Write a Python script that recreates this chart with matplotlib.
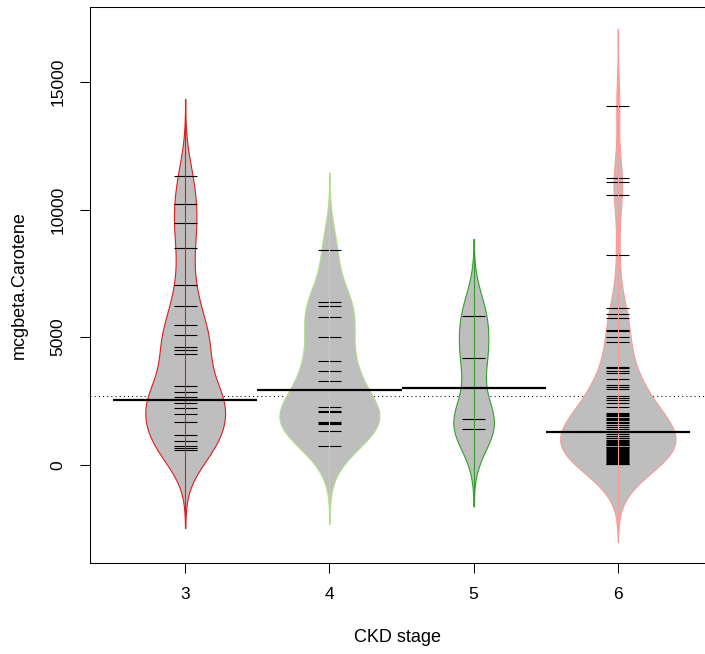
import numpy as np
import matplotlib
matplotlib.use("Agg")
import matplotlib.pyplot as plt
from matplotlib import mlab

plt.rcParams["font.family"] = ["Liberation Sans", "DejaVu Sans"]

stages = [3, 4, 5, 6]

stage3 = [11308, 10223, 9479, 8487, 7063, 6214, 5484, 5066, 4596, 4504, 4348,
          3068, 2860, 2640, 2560, 2440, 2220, 1985, 1672, 1175,
          914, 718, 640, 561]
stage4 = [8420, 6397, 6241, 5810, 5014, 4086, 3669, 3278, 2260, 2100, 2064,
          1680, 1645, 1610, 1332, 718]
stage5 = [5823, 4191, 1802, 1397]
stage6 = [14060, 11229, 11072, 10575, 8213, 6161, 5926, 5757, 5287, 5248,
          5001, 4817, 3850, 3787, 3693, 3591, 3380, 3121, 3043, 2965, 2702,
          2636, 2546, 2416, 2283, 2048, 1997, 1946, 1892, 1841, 1790, 1735,
          1684, 1633, 1555, 1477, 1398, 1292, 1214, 1108, 1065, 1030, 985,
          950, 905, 870, 830, 790, 760, 715, 680, 640, 600, 570, 530, 490,
          455, 410, 380, 340, 300, 265, 225, 190, 150, 110, 75, 40, 15]

bean_line = [2520, 2940, 3000, 1290]   # per-bean average line
overall_line = 2680                    # dotted overall line

border_colors = ["#E31A1C", "#B2DF8A", "#33A02C", "#FB9A99"]
FILL = "#BEBEBE"
BW = 1010          # common kernel bandwidth
MAXWIDTH = 0.8
GROWNAGE = 10      # beans with fewer points are drawn smaller
RUG = 0.08

groups = [stage3, stage4, stage5, stage6]

fig = plt.figure(figsize=(7.05, 6.54), dpi=100)
ax = fig.add_axes([90 / 705, 91 / 654, 623 / 705, 556 / 654])

# densities with a shared bandwidth, evaluated 3 bandwidths past the data
dens = []
for vals in groups:
    arr = np.asarray(vals, dtype=float)
    kde = mlab.GaussianKDE(arr, bw_method=BW / arr.std(ddof=1))
    ys = np.linspace(arr.min() - 3 * BW, arr.max() + 3 * BW, 400)
    d = kde.evaluate(ys) * min(1.0, len(arr) / GROWNAGE)
    dens.append((ys, d))
scale = (MAXWIDTH / 2) / max(d.max() for _, d in dens)

ax.axhline(overall_line, color="black", lw=0.75, linestyle=(0, (1, 3)), zorder=1)

for i, (pos, vals) in enumerate(zip(stages, groups)):
    ys, d = dens[i]
    w = d * scale
    col = border_colors[i]
    ax.fill_betweenx(ys, pos - w, pos + w, facecolor=FILL, edgecolor=col,
                     lw=0.8, zorder=2)
    for v in vals:
        ax.plot([pos - RUG, pos + RUG], [v, v], color="black", lw=0.8,
                zorder=3, solid_capstyle="butt")
    ax.plot([pos, pos], [ys.min(), ys.max()], color=col, lw=0.8, zorder=4)
    ax.plot([pos - 0.5, pos + 0.5], [bean_line[i], bean_line[i]],
            color="black", lw=1.6, zorder=5, solid_capstyle="butt")

ax.set_xlim(2.34, 6.66)
ax.set_ylim(-3850, 17940)
ax.set_xticks(stages)
ax.set_xticklabels([str(s) for s in stages])
ax.set_yticks([0, 5000, 10000, 15000])
ax.set_yticklabels(["0", "5000", "10000", "15000"], rotation=90, va="center")
ax.tick_params(direction="out", length=7.5, width=0.75, labelsize=12.5, pad=10)
for sp in ax.spines.values():
    sp.set_linewidth(0.75)

fig.text(397 / 705, 1 - 638 / 654, "CKD stage", ha="center", va="center", fontsize=13)
fig.text(19 / 705, 1 - 285 / 654, "mcgbeta.Carotene", ha="center", va="center",
         rotation=90, fontsize=13)

fig.savefig("out.png", dpi=100)
